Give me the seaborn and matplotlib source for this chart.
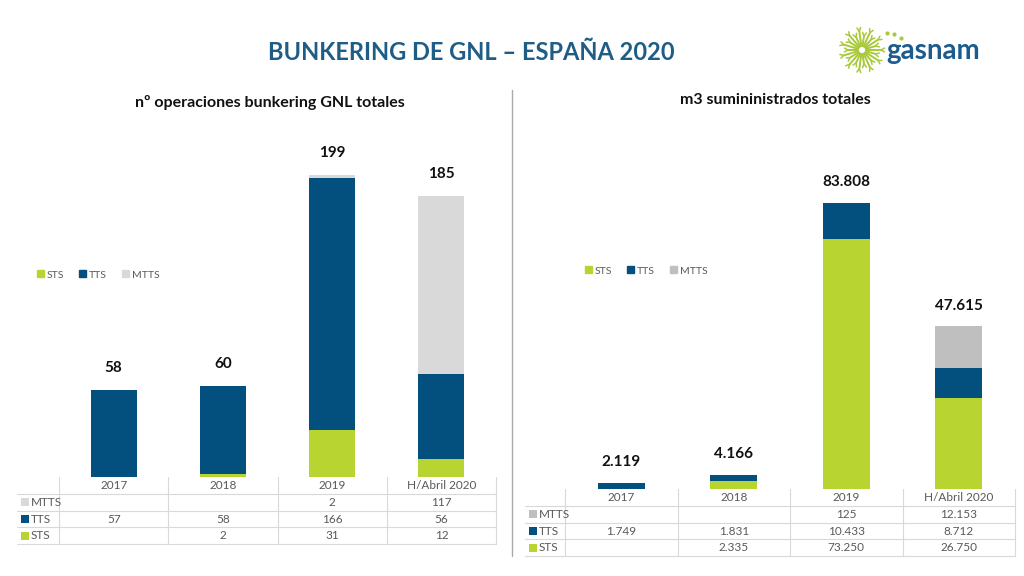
import numpy as np
import pandas as pd
import matplotlib
matplotlib.use("Agg")
import matplotlib.pyplot as plt
import seaborn as sns
from matplotlib.patches import Patch
from matplotlib.lines import Line2D

# ---------------- data ----------------
years = ["2017", "2018", "2019", "H/Abril 2020"]

ops_sts = [None, 2, 31, 12]
ops_tts = [57, 58, 166, 56]
ops_mtts = [None, None, 2, 117]
ops_total_labels = [58, 60, 199, 185]

m3_sts = [None, 2335, 73250, 26750]
m3_tts = [1749, 1831, 10433, 8712]
m3_mtts = [None, None, 125, 12153]
m3_total_labels = [2119, 4166, 83808, 47615]

title = "BUNKERING DE GNL – ESPAÑA 2020"
left_title = "nº operaciones bunkering GNL totales"
right_title = "m3 sumininistrados totales"

C_STS = "#b7d431"
C_TTS = "#03507f"
C_MTTS_L = "#d9d9d9"
C_MTTS_R = "#bfbfbf"
C_TXT = "#595959"
C_GRID = "#d9d9d9"

sns.set_theme(style="white")
plt.rcParams["font.family"] = ["Lato", "DejaVu Sans"]

W, H = 1024, 576
fig = plt.figure(figsize=(W / 100, H / 100), dpi=100)
fig.patch.set_facecolor("white")


def px(x0, y0, x1, y1):
    return [x0 / W, 1 - y1 / H, (x1 - x0) / W, (y1 - y0) / H]


def fmt_plain(v):
    return "" if v is None else f"{int(v)}"


def fmt_dot(v):
    return "" if v is None else f"{int(v):,}".replace(",", ".")


def panel(bar_box, tab_box, label_w, sts, tts, mtts, totals, mtts_color, ymax,
          fmt, label_off):
    ax = fig.add_axes(px(*bar_box))
    s = pd.Series(sts, dtype=float).fillna(0).to_numpy()
    t = pd.Series(tts, dtype=float).fillna(0).to_numpy()
    m = pd.Series(mtts, dtype=float).fillna(0).to_numpy()
    df = pd.DataFrame({"year": years, "c1": s, "c2": s + t, "c3": s + t + m})
    for col, colr in (("c3", mtts_color), ("c2", C_TTS), ("c1", C_STS)):
        sns.barplot(data=df, x="year", y=col, color=colr, saturation=1,
                    width=0.42, errorbar=None, ax=ax, order=years,
                    linewidth=0, edgecolor="none")
    for i, tot in enumerate(totals):
        ax.annotate(fmt(tot), xy=(i, df["c3"][i]), xytext=(0, label_off),
                    textcoords="offset points", ha="center", va="center",
                    fontsize=11, fontweight="bold", color="#111111")
    ax.set_xlim(-0.5, 3.5)
    ax.set_ylim(0, ymax)
    ax.set_axis_off()

    # data table
    tax = fig.add_axes(px(*tab_box))
    x0 = -0.5 - label_w
    tax.set_xlim(x0, 3.5)
    tax.set_ylim(4, 0)
    tax.set_axis_off()
    for xb in [-0.5, 0.5, 1.5, 2.5, 3.5]:
        tax.plot([xb, xb], [0, 4], color=C_GRID, lw=0.8, clip_on=False)
    for yb in [1, 2, 3, 4]:
        tax.plot([x0, 3.5], [yb, yb], color=C_GRID, lw=0.8, clip_on=False)
    for i, yr in enumerate(years):
        tax.text(i, 0.52, yr, ha="center", va="center", fontsize=8.5, color=C_TXT)
    rows = [("MTTS", mtts, mtts_color), ("TTS", tts, C_TTS), ("STS", sts, C_STS)]
    for r, (name, vals, colr) in enumerate(rows):
        yc = r + 1.52
        tax.scatter([x0 + 0.07], [yc], marker="s", s=26, color=colr, clip_on=False,
                    linewidths=0)
        tax.text(x0 + 0.125, yc, name, ha="left", va="center", fontsize=8.5, color=C_TXT)
        for i, v in enumerate(vals):
            tax.text(i, yc, fmt(v), ha="center", va="center", fontsize=8.5, color=C_TXT)

    return ax


panel((59, 120, 496, 477), (17, 477, 496, 544), 42 / 109,
      ops_sts, ops_tts, ops_mtts, ops_total_labels, C_MTTS_L, 357 / 1.518,
      fmt_plain, 16)
panel((565, 130, 1015, 489), (525, 489, 1015, 556), 40 / 112,
      m3_sts, m3_tts, m3_mtts, m3_total_labels, C_MTTS_R, 359 / 0.003413,
      fmt_dot, 15)

# legends
for (lx, ly, mcol) in ((37, 275, C_MTTS_L), (585, 271, C_MTTS_R)):
    handles = [Patch(color=C_STS, label="STS"), Patch(color=C_TTS, label="TTS"),
               Patch(color=mcol, label="MTTS")]
    fig.legend(handles=handles, loc="center left", bbox_to_anchor=(lx / W, 1 - ly / H),
               ncol=3, frameon=False, fontsize=7.5, labelcolor=C_TXT,
               handlelength=0.65, handleheight=0.65, handletextpad=0.25,
               columnspacing=1.5, borderaxespad=0, borderpad=0)

# titles
fig.text(471 / W, 1 - 52 / H, title, ha="center", va="center", fontsize=17,
         fontweight="bold", color="#1f5d87")
fig.text(270 / W, 1 - 102 / H, left_title, ha="center", va="center", fontsize=11.5,
         fontweight="bold", color="#111111")
fig.text(775 / W, 1 - 100 / H, right_title, ha="center", va="center", fontsize=11.5,
         fontweight="bold", color="#111111")

# divider
fig.add_artist(Line2D([512 / W, 512 / W], [1 - 90 / H, 1 - 556 / H],
                      color="#a6abb0", lw=1))

# logo
lax = fig.add_axes(px(830, 20, 1000, 80))
lax.set_xlim(830, 1000)
lax.set_ylim(80, 20)
lax.set_axis_off()
cx, cy = 862, 50
g = "#a9c93b"
ang = np.linspace(0, 2 * np.pi, 22, endpoint=False)
for k, a in enumerate(ang):
    r = 19 if k % 2 == 0 else 14
    ex, ey = cx + r * np.cos(a), cy + r * np.sin(a)
    lax.plot([cx + 4 * np.cos(a), ex], [cy + 4 * np.sin(a), ey], color=g, lw=1.4,
             solid_capstyle="round")
    for d in (-0.5, 0.5):
        lax.plot([ex, ex + 4 * np.cos(a + d)], [ey, ey + 4 * np.sin(a + d)],
                 color=g, lw=1.1, solid_capstyle="round")
for a, r in ((-0.6, 30), (-0.45, 36), (-0.3, 41)):
    lax.scatter([cx + r * np.cos(a)], [cy + r * np.sin(a)], s=9, color=g, linewidths=0)
lax.text(886, 51, "gasnam", ha="left", va="center", fontsize=20,
         fontweight="bold", color="#1c5b8d")

fig.savefig("out.png", dpi=100, facecolor="white")
